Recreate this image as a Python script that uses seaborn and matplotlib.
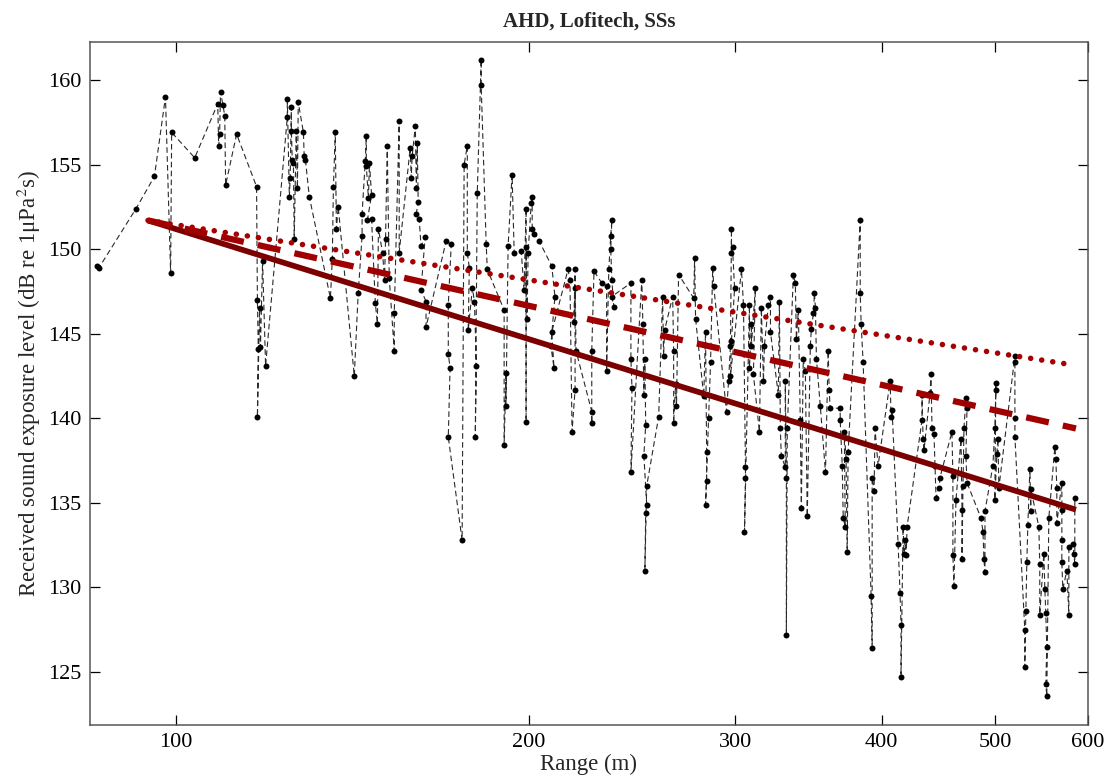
import matplotlib
matplotlib.use("Agg")
import matplotlib.pyplot as plt
from matplotlib.ticker import FixedLocator, FixedFormatter, NullLocator
import seaborn as sns

# Received SEL versus range, in the order the shots were recorded
range_m = [
    85.7, 86.0, 92.5, 95.9, 98.0, 99.0, 99.2, 103.8, 108.6, 108.8,
    109.0, 109.2, 109.7, 110.1, 110.3, 112.7, 117.2, 117.4, 117.6, 117.4,
    117.9, 118.1, 118.6, 119.3,
    124.5, 124.5, 125.0, 125.2, 125.5, 125.5, 125.7, 126.0, 126.2, 126.7,
    127.0, 127.2, 128.5, 128.7, 129.0, 130.0, 135.5,
    136.0, 136.3, 136.8, 137.1, 137.6, 142.0, 143.1, 144.2, 144.2, 145.1,
    145.4, 145.4, 146.0, 146.3, 146.9, 145.7, 146.9, 148.0, 148.6, 148.9,
    150.1, 150.7, 151.0, 151.5, 152.1, 153.6, 153.6, 155.1, 155.1,
    158.5, 158.8, 159.1, 160.1, 160.4, 160.7, 161.0, 160.4, 161.3, 161.9,
    163.2, 161.9, 163.5, 163.5,
    170.1, 171.8, 170.8, 170.8, 171.4, 170.8, 175.5, 176.2, 177.3, 177.3,
    178.0, 177.6, 179.1, 179.8, 180.5, 180.1, 180.8, 182.2, 182.2, 184.0,
    184.4, 190.6, 190.6, 191.3, 191.3, 192.1, 193.6, 194.4, 197.1, 198.2,
    199.0, 199.0, 199.0, 199.4, 199.8, 201.0, 201.4, 201.4, 202.2, 204.1,
    209.3, 210.6, 208.9, 210.2, 209.3, 216.1, 216.9, 217.8, 219.1, 219.1,
    218.6, 219.1, 219.5, 226.4, 226.4, 226.4, 227.4, 230.9, 233.1, 233.1,
    234.1, 235.0, 235.5, 235.0, 235.5, 236.4, 235.5,
    244.5, 244.5, 245.0, 244.5, 249.8, 250.3, 250.8, 251.3, 251.7, 250.8,
    252.2, 251.7, 251.3, 252.2,
    258.2, 260.2, 260.7, 261.2, 265.4, 265.9, 265.9, 266.9, 267.4, 268.5,
    276.6, 277.1, 277.6, 282.1, 283.1, 283.7, 283.7, 283.1, 284.8, 285.9,
    287.1, 287.7, 295.0, 296.2, 297.3, 297.9, 297.9, 298.5, 299.7, 297.9,
    297.3,
    303.8, 305.0, 306.2, 306.2, 305.6, 308.6, 308.6, 309.8, 309.8, 312.2,
    311.0, 314.7, 315.9, 317.2, 317.8, 320.3, 321.6, 321.6, 326.6, 327.3,
    327.9, 328.5, 331.1, 331.1, 331.8, 331.8, 332.4, 336.4, 337.7, 338.4,
    339.7, 341.0, 341.7, 343.0, 344.4, 345.7, 347.8, 348.5, 349.9, 350.6,
    351.3, 352.0, 354.7, 358.3, 360.2, 360.9, 361.6, 368.8, 368.8, 370.3,
    371.0, 372.5, 371.8, 373.1, 373.9, 374.6,
    383.6, 383.6, 384.3, 385.8, 391.9, 392.7, 392.7, 394.2, 394.9, 397.3,
    406.8, 407.6, 408.4, 413.2, 414.8, 415.6, 415.6, 417.3, 418.1, 418.9,
    419.8, 420.6,
    433.1, 433.1, 434.0, 434.8, 440.0, 440.8, 441.7, 443.4, 444.3, 445.2,
    447.8, 448.7, 459.3, 460.2, 460.2, 461.1, 463.0, 467.6, 468.5, 468.5,
    469.4, 470.3, 472.1, 473.1, 472.1, 473.1,
    486.3, 488.2, 489.1, 490.1, 490.1, 497.8, 499.7, 500.7, 500.7, 499.7,
    501.7, 502.7, 503.7, 519.8, 519.8, 519.8, 519.8, 530.0, 530.0, 531.1,
    532.1, 533.2, 535.3, 536.3, 536.3, 544.8, 545.8, 545.8, 550.2, 551.3,
    552.3, 553.4, 552.3, 553.4, 555.6, 562.2, 563.3, 564.4, 564.4, 570.0,
    570.0, 570.0, 570.0, 571.1, 575.6, 577.9, 577.9, 582.4, 583.5, 584.7,
    584.7,
]
sel_db = [
    149.0, 148.9, 152.4, 154.3, 159.0, 148.6, 156.9, 155.4, 158.6, 156.1,
    156.8, 159.3, 158.5, 157.9, 153.8, 156.8, 153.7, 147.0, 144.1, 140.1,
    146.5, 144.2, 149.3, 143.1,
    157.8, 158.9, 153.1, 154.2, 158.4, 157.0, 155.3, 155.1, 150.6, 157.0,
    153.6, 158.7, 156.9, 155.5, 155.3, 153.1, 147.1,
    149.4, 153.7, 156.9, 151.2, 152.5, 142.5, 147.4, 150.8, 152.1, 155.2,
    156.7, 154.9, 153.0, 155.1, 153.2, 151.7, 151.8, 146.8, 145.6, 151.2,
    149.8, 148.2, 150.6, 156.1, 148.3, 144.0, 146.2, 157.6, 149.8,
    156.0, 154.2, 155.5, 157.3, 153.6, 156.3, 152.8, 152.1, 151.8, 150.2,
    150.7, 147.6, 146.9, 145.4,
    150.5, 150.3, 146.7, 143.8, 143.0, 138.9, 132.8, 155.0, 156.1, 149.8,
    148.9, 145.2, 147.7, 146.9, 143.1, 138.9, 153.3, 161.2, 159.7, 150.3,
    148.8, 146.4, 138.4, 142.7, 140.7, 150.2, 154.4, 149.8, 149.9, 147.6,
    152.4, 139.8, 150.1, 145.9, 149.8, 152.7, 153.1, 151.2, 150.9, 150.5,
    149.0, 147.2, 144.3, 143.0, 145.1, 148.8, 148.2, 139.2, 141.7, 147.7,
    145.7, 148.8, 144.0, 140.4, 139.7, 144.0, 148.7, 148.0, 147.8, 142.8,
    148.8, 150.8, 151.7, 150.0, 148.2, 146.6, 147.2,
    148.0, 143.5, 141.8, 136.8, 148.2, 145.6, 141.4, 143.5, 139.6, 137.8,
    134.9, 134.4, 131.0, 136.0,
    140.1, 147.2, 143.7, 145.2, 147.2, 144.0, 139.7, 142.0, 140.7, 148.5,
    147.1, 149.5, 145.9, 141.3, 145.1, 138.0, 136.3, 134.9, 140.0, 143.3,
    148.9, 147.8, 140.4, 142.2, 144.3, 151.2, 149.8, 150.1, 147.7, 144.6,
    142.5,
    148.8, 146.7, 137.1, 136.5, 133.3, 146.7, 143.0, 145.6, 144.3, 147.7,
    142.6, 139.2, 146.5, 142.2, 144.3, 146.7, 147.2, 145.1, 141.4, 146.9,
    139.4, 137.8, 137.1, 142.2, 136.5, 127.2, 139.4, 148.5, 148.0, 144.7,
    146.4, 139.9, 134.7, 143.5, 142.8, 134.2, 144.3, 145.3, 146.2, 147.4,
    146.5, 143.5, 140.7, 136.8, 144.0, 141.7, 140.6, 140.6, 139.9, 137.2,
    134.1, 133.6, 139.2, 137.6, 132.1, 138.0,
    151.7, 147.4, 145.6, 143.3, 129.5, 126.4, 136.5, 135.7, 139.4, 137.2,
    142.2, 140.1, 140.5, 132.6, 129.7, 127.8, 124.7, 133.6, 132.0, 132.8,
    131.9, 133.6,
    139.9, 141.4, 138.8, 138.1, 141.5, 142.6, 139.4, 139.1, 137.2, 135.3,
    135.9, 136.5, 139.2, 136.6, 131.9, 130.1, 135.2, 138.8, 134.6, 131.7,
    136.0, 139.4, 141.2, 140.6, 137.8, 136.2,
    134.1, 133.3, 131.7, 130.9, 134.5, 137.2, 139.4, 141.7, 142.1, 135.2,
    137.9, 138.8, 135.9, 143.7, 143.3, 140.0, 138.9, 127.5, 125.3, 128.6,
    131.5, 133.7, 137.0, 134.5, 135.8, 133.6, 131.4, 128.4, 132.0, 129.9,
    128.5, 126.5, 124.3, 123.6, 134.1, 138.3, 137.6, 135.9, 133.8, 136.2,
    134.6, 132.8, 131.5, 129.9, 131.0, 128.4, 132.4, 132.6, 132.0, 131.4,
    135.3,
]

# Fitted transmission-loss curves (end points on the log-range axis)
fit_solid_range = [94.7, 586.0]
fit_solid_sel = [151.7, 134.6]
fit_dashed_range = [94.7, 586.0]
fit_dashed_sel = [151.7, 139.4]
fit_dotted_range = [94.7, 577.0]
fit_dotted_sel = [151.7, 143.2]

x_ticks = [100, 200, 300, 400, 500, 600]
x_tick_labels = ["100", "200", "300", "400", "500", "600"]
y_ticks = [125, 130, 135, 140, 145, 150, 155, 160]

sns.set_theme(style="white")
plt.rcParams["font.family"] = ["Liberation Serif", "DejaVu Serif"]
plt.rcParams["mathtext.fontset"] = "stix"

fig = plt.figure(figsize=(11.07, 7.78), dpi=100)
ax = fig.add_axes([0.0813, 0.0681, 0.9015, 0.878])

sns.lineplot(x=range_m, y=sel_db, sort=False, estimator=None, ax=ax,
             color="#2a2a2a", linewidth=0.8, linestyle=(0, (5, 3)),
             marker="o", markersize=4.3, markeredgewidth=0,
             markerfacecolor="black")

sns.lineplot(x=fit_solid_range, y=fit_solid_sel, sort=False, estimator=None,
             ax=ax, color="#7c0000", linewidth=4.1, solid_capstyle="butt")
sns.lineplot(x=fit_dashed_range, y=fit_dashed_sel, sort=False, estimator=None,
             ax=ax, color="#a00000", linewidth=4.5,
             linestyle=(0, (3.7, 2.3)), dash_capstyle="butt")
sns.lineplot(x=fit_dotted_range, y=fit_dotted_sel, sort=False, estimator=None,
             ax=ax, color="#a80000", linewidth=4.0,
             linestyle=(0, (0.01, 2.0)), dash_capstyle="round")

ax.set_xscale("log")
ax.set_xlim(84.5, 600)
ax.set_ylim(121.87, 162.25)
ax.xaxis.set_major_locator(FixedLocator(x_ticks))
ax.xaxis.set_major_formatter(FixedFormatter(x_tick_labels))
ax.xaxis.set_minor_locator(NullLocator())
ax.yaxis.set_major_locator(FixedLocator(y_ticks))
ax.yaxis.set_minor_locator(NullLocator())

ax.tick_params(which="major", direction="in", length=7, width=0.9,
               colors="black", labelsize=16, top=True, right=True,
               bottom=True, left=True)
ax.tick_params(axis="x", pad=6)
ax.tick_params(axis="y", pad=6)

for spine in ax.spines.values():
    spine.set_color("#555555")
    spine.set_linewidth(1.1)

ax.set_title("AHD, Lofitech, SSs", fontsize=15, fontweight="bold", pad=11)
ax.set_xlabel("Range (m)", fontsize=16.5, labelpad=1)
ax.set_ylabel("Received sound exposure level (dB re 1\u03bcPa$^2$s)",
              fontsize=16.5, labelpad=4)

fig.savefig("out.png", dpi=100)
